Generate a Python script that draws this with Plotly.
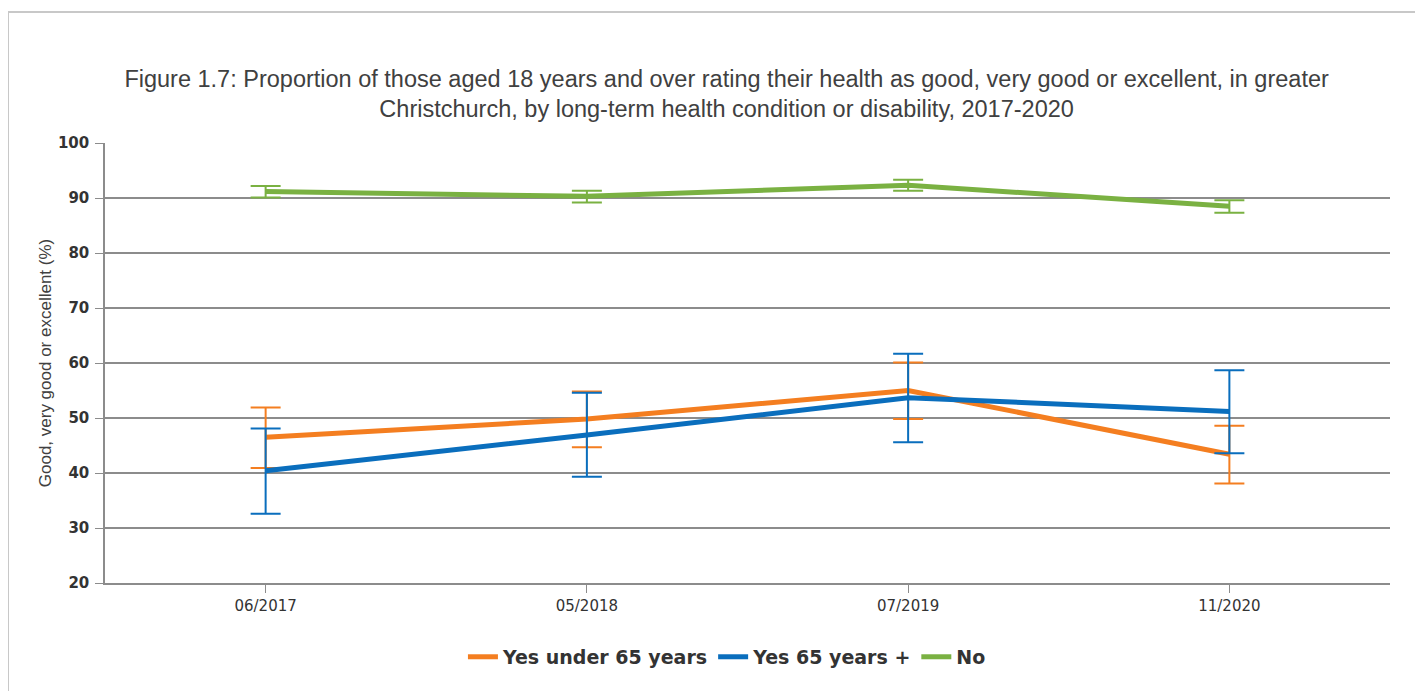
import plotly.graph_objects as go

categories = ["06/2017", "05/2018", "07/2019", "11/2020"]

yes_under65 = [46.5, 49.8, 55.0, 43.4]
yes_under65_hi = [51.9, 54.8, 60.1, 48.6]
yes_under65_lo = [40.9, 44.7, 49.8, 38.1]

yes_65plus = [40.4, 46.9, 53.7, 51.2]
yes_65plus_hi = [48.1, 54.6, 61.7, 58.7]
yes_65plus_lo = [32.6, 39.3, 45.6, 43.6]

no_cond = [91.2, 90.3, 92.3, 88.5]
no_cond_hi = [92.2, 91.3, 93.3, 89.6]
no_cond_lo = [90.1, 89.2, 91.3, 87.3]

series = [
    ("Yes under 65 years", yes_under65, yes_under65_hi, yes_under65_lo, "#F47E20"),
    ("Yes 65 years +", yes_65plus, yes_65plus_hi, yes_65plus_lo, "#0A6EBD"),
    ("No", no_cond, no_cond_hi, no_cond_lo, "#7AB142"),
]

fig = go.Figure()
for name, vals, hi, lo, col in series:
    fig.add_trace(go.Scatter(
        x=categories, y=vals, name=name, mode="lines",
        line=dict(color=col, width=5),
        error_y=dict(type="data", symmetric=False,
                     array=[h - v for h, v in zip(hi, vals)],
                     arrayminus=[v - l for v, l in zip(vals, lo)],
                     color=col, thickness=2, width=15),
    ))

L, T, R, B = 97, 135, 41, 116
W, H = 1423, 691
pw = W - L - R
ph = H - T - B

fig.update_layout(
    width=W, height=H,
    paper_bgcolor="white", plot_bgcolor="white",
    margin=dict(l=L, r=R, t=T, b=B),
    font=dict(family="Liberation Sans, Arial, sans-serif", color="#333333"),
    title=dict(
        text="Figure 1.7: Proportion of those aged 18 years and over rating their health as good, very good or excellent, in greater<br>Christchurch, by long-term health condition or disability, 2017-2020",
        x=0.505, xanchor="center", y=0.886, yanchor="middle",
        font=dict(size=23.5, color="#404040"),
    ),
    showlegend=True,
    legend=dict(orientation="h", x=0.484, xanchor="center", y=-0.168, yanchor="middle",
                font=dict(size=19, color="#333333", family="DejaVu Sans, sans-serif", weight="bold"),
                traceorder="normal"),
    xaxis=dict(
        range=[-0.5, 3.5],
        showline=True, linecolor="#8c8c8c", linewidth=1.5,
        ticks="outside", ticklen=8, tickcolor="#8c8c8c",
        showgrid=False,
        tickfont=dict(size=15, color="#333333", family="DejaVu Sans, sans-serif"),
    ),
    yaxis=dict(
        range=[20, 100], dtick=10, tick0=20,
        showline=True, linecolor="#8c8c8c", linewidth=1.5,
        ticks="outside", ticklen=8, tickcolor="#8c8c8c",
        showgrid=True, gridcolor="#8c8c8c", gridwidth=1.5,
        ticklabelstandoff=3,
        tickfont=dict(size=15, color="#333333", family="DejaVu Sans, sans-serif", weight="bold"),
        title=dict(text="Good, very good or excellent (%)",
                   font=dict(size=17, color="#404040"), standoff=2),
    ),
    shapes=[dict(type="rect", xref="paper", yref="paper",
                 x0=(0 - L) / pw, x1=(W + 20 - L) / pw,
                 y0=(ph + T - H - 20) / ph, y1=(ph + T - 4) / ph,
                 line=dict(color="#c8c8c8", width=2), layer="below")],
)

fig.write_html("out.html")
